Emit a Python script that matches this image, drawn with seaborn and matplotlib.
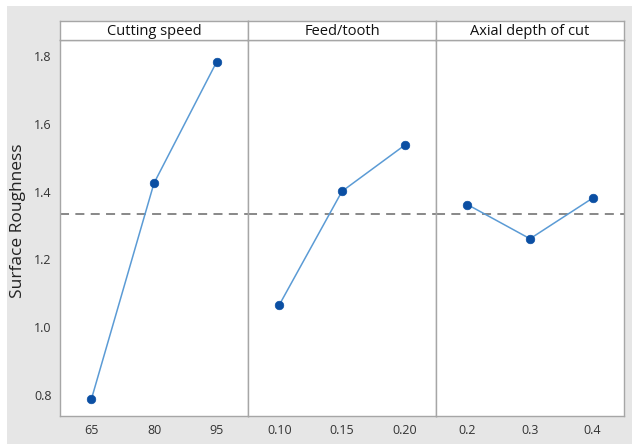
import matplotlib
matplotlib.use("Agg")
import matplotlib.pyplot as plt
from matplotlib.patches import Rectangle
import seaborn as sns
import numpy as np

# Data
factors = ["Cutting speed", "Feed/tooth", "Axial depth of cut"]
speed_levels = ["65", "80", "95"]
speed_means = [0.787, 1.425, 1.783]
feed_levels = ["0.10", "0.15", "0.20"]
feed_means = [1.066, 1.401, 1.537]
depth_levels = ["0.2", "0.3", "0.4"]
depth_means = [1.362, 1.261, 1.381]
grand_mean = 1.334
y_ticks = [0.8, 1.0, 1.2, 1.4, 1.6, 1.8]
y_label = "Surface Roughness"

sns.set_style("white")
plt.rcParams['font.family'] = ['Open Sans', 'DejaVu Sans']

fig = plt.figure(figsize=(6.32, 4.44), dpi=100, facecolor="white")
W, H = 632, 444
fig.patches.append(Rectangle((7 / W, 0), 1 - 7 / W, 1 - 6 / H, transform=fig.transFigure,
                             facecolor="#e6e6e6", edgecolor="none", zorder=-10))
left, right, bottom, top = 60, 624, 416, 40.5
strip_top = 21
pw = (right - left) / 3

line_color = "#5b9bd5"
marker_color = "#0b4fa3"
edge_gray = "#a6a6a6"

groups = [(speed_levels, speed_means), (feed_levels, feed_means), (depth_levels, depth_means)]
axes = []
for i, (levels, means) in enumerate(groups):
    x0 = left + i * pw
    ax = fig.add_axes([x0 / W, 1 - bottom / H, pw / W, (bottom - top) / H])
    ax.set_facecolor("white")
    pos = list(range(len(levels)))
    sns.lineplot(x=pos, y=means, ax=ax, color=line_color, linewidth=1.1, sort=False)
    sns.scatterplot(x=pos, y=means, ax=ax, color=marker_color, s=38, edgecolor=marker_color, linewidth=0.5, zorder=3)
    ax.axhline(grand_mean, color="#7f7f7f", linestyle=(0, (5, 3.5)), linewidth=1.3, zorder=1)
    ax.set_xlim(-0.5, len(levels) - 0.5)
    ax.set_ylim(0.738, 1.846)
    ax.set_xticks(pos)
    ax.set_xticklabels(levels)
    ax.set_yticks(y_ticks)
    if i == 0:
        ax.set_yticklabels([f"{v:.1f}" for v in y_ticks])
        ax.set_ylabel(y_label, fontsize=12.5, color="#222222")
        ax.yaxis.set_label_coords(-34 / pw, 0.521)
    else:
        ax.set_yticklabels([])
    ax.set_xlabel("")
    for s in ax.spines.values():
        s.set_color(edge_gray)
        s.set_linewidth(1.0)
    ax.tick_params(axis="both", which="both", direction="out", length=3, width=0.8,
                   color=edge_gray, labelsize=9, labelcolor="#333333", pad=3)
    if i > 0:
        ax.tick_params(axis="y", length=0)
    else:
        ax.tick_params(axis="y", length=3)
    axes.append(ax)

    # strip
    sax = fig.add_axes([x0 / W, 1 - top / H, pw / W, (top - strip_top) / H])
    sax.set_facecolor("white")
    sax.set_xticks([])
    sax.set_yticks([])
    for s in sax.spines.values():
        s.set_color(edge_gray)
        s.set_linewidth(1.0)
    sax.text(0.5, 0.45, factors[i], ha="center", va="center", fontsize=10.5, fontweight="medium",
             color="#111111", transform=sax.transAxes)

fig.savefig("out.png", dpi=100, facecolor=fig.get_facecolor())
